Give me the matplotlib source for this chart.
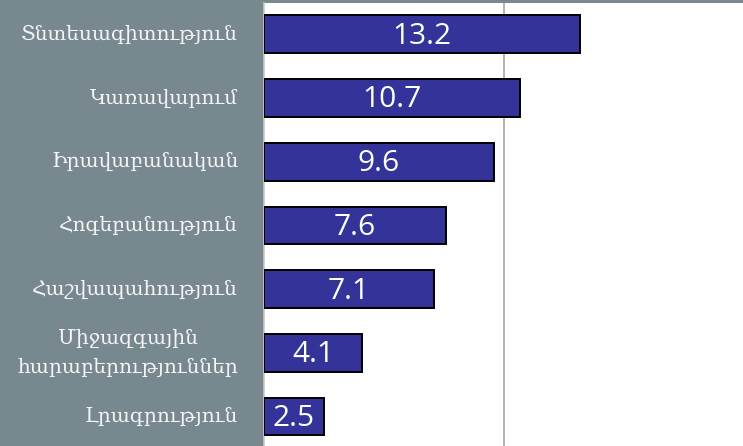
import matplotlib
matplotlib.use('Agg')
import matplotlib.pyplot as plt

# Data
categories = ['Տնտեսագիտություն', 'Կառավարում', 'Իրավաբանական', 'Հոգեբանություն',
              'Հաշվապահություն', 'Միջազգային\nհարաբերություններ', 'Լրագրություն']
values = [13.2, 10.7, 9.6, 7.6, 7.1, 4.1, 2.5]
value_labels = ['13.2', '10.7', '9.6', '7.6', '7.1', '4.1', '2.5']

panel_color = '#77888f'
bar_color = '#333399'

fig = plt.figure(figsize=(7.43, 4.46), dpi=100, facecolor=panel_color)
ax = fig.add_axes([264 / 743, 0, (743 - 264) / 743, 443 / 446])
ax.set_facecolor('white')

pos = list(range(len(categories)))
ax.barh(pos, values, height=0.59, color=bar_color, edgecolor='black',
        linewidth=1.4, zorder=3)
ax.axvline(10, color='#a6a6a6', linewidth=1.2, zorder=1)

for p, v, lab in zip(pos, values, value_labels):
    ax.text(v / 2, p + 0.03, lab, ha='center', va='center', color='white',
            fontsize=21.5, family=['Open Sans', 'DejaVu Sans'], zorder=4)

ax.set_xlim(0, 20)
ax.set_ylim(6.46, -0.49)
ax.set_xticks([])
ax.set_yticks([])
for s in ['top', 'right', 'bottom']:
    ax.spines[s].set_visible(False)
ax.spines['left'].set_color('#c8c8c8')
ax.spines['left'].set_linewidth(1.2)

# category labels in the grey panel
for p, c in zip(pos, categories):
    ax.text(-1.08, p, c, ha='right', va='center', multialignment='center',
            color='#f4f4f4', fontsize=14.5, family=['DejaVu Serif', 'DejaVu Sans'],
            linespacing=1.65, clip_on=False)

fig.savefig('out.png', dpi=100, facecolor=panel_color)
